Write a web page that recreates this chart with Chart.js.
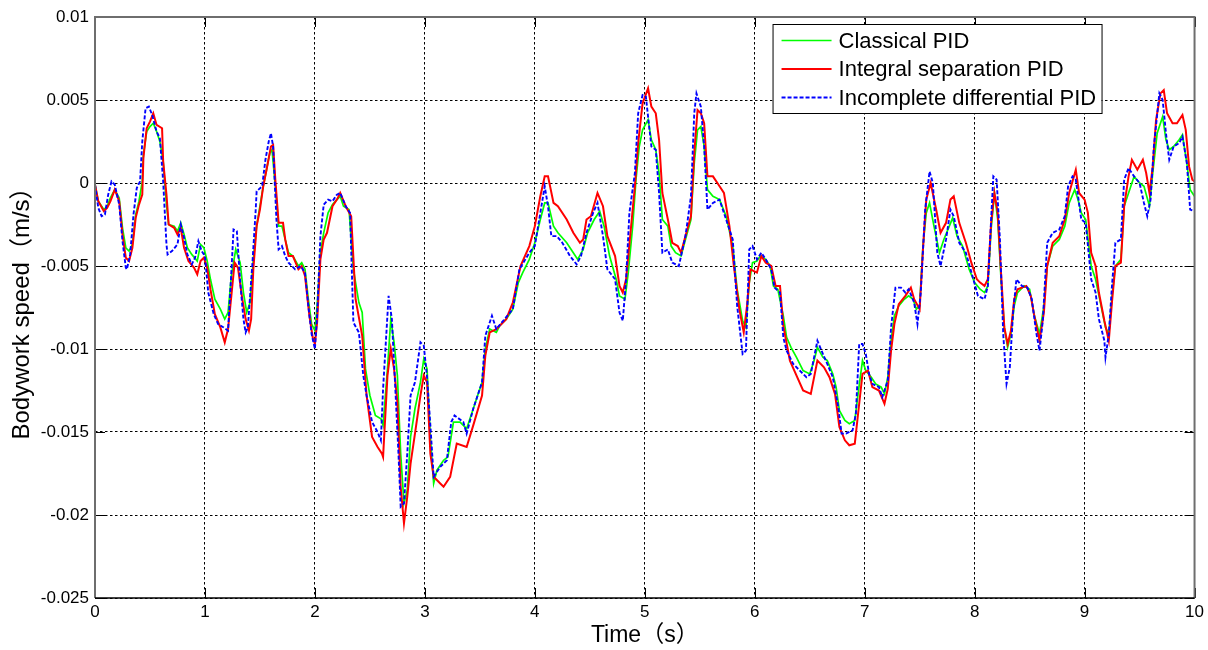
<!DOCTYPE html>
<html>
<head>
<meta charset="utf-8">
<script src="https://cdn.jsdelivr.net/npm/chart.js@4"></script>
<style>
  html, body { margin: 0; padding: 0; background: #fff; }
  #wrap { width: 1208px; height: 650px; }
</style>
</head>
<body>
<div id="wrap"><canvas id="c" width="1208" height="650"></canvas></div>
<script>
// Bodywork vertical speed (m/s) versus time (s) for three PID controllers

const seriesNames = ['Classical PID', 'Integral separation PID', 'Incomplete differential PID'];
const xTickLabels = ['0','1','2','3','4','5','6','7','8','9','10'];
const yTickLabels = ['0.01','0.005','0','-0.005','-0.01','-0.015','-0.02','-0.025'];

// Classical PID
const classicalTime = [
  0.00,0.03,0.08,0.11,0.14,0.18,0.22,0.25,0.28,0.31,0.34,0.37,0.40,0.43,0.44,0.47,0.50,0.53,0.56,0.59,
  0.62,0.65,0.67,0.72,0.75,0.78,0.81,0.84,0.88,0.93,0.96,0.99,1.02,1.05,1.09,1.14,1.18,1.21,1.24,1.28,
  1.32,1.35,1.38,1.41,1.44,1.47,1.50,1.53,1.56,1.59,1.61,1.64,1.67,1.70,1.73,1.76,1.80,1.85,1.88,1.91,
  1.94,1.97,2.00,2.02,2.05,2.08,2.12,2.16,2.20,2.23,2.26,2.31,2.35,2.40,2.43,2.46,2.50,2.55,2.60,2.62,
  2.66,2.69,2.72,2.75,2.78,2.81,2.84,2.87,2.91,2.96,2.99,3.02,3.05,3.08,3.11,3.17,3.21,3.26,3.32,3.38,
  3.44,3.52,3.55,3.59,3.65,3.68,3.74,3.80,3.85,3.89,3.95,4.00,4.05,4.09,4.12,4.17,4.21,4.29,4.35,4.39,
  4.44,4.48,4.54,4.59,4.63,4.68,4.74,4.77,4.82,4.85,4.89,4.92,4.95,4.98,5.03,5.06,5.10,5.13,5.16,5.21,
  5.24,5.28,5.33,5.37,5.42,5.45,5.48,5.51,5.54,5.57,5.62,5.68,5.74,5.80,5.84,5.89,5.92,5.95,5.98,6.02,
  6.05,6.10,6.14,6.17,6.21,6.26,6.29,6.33,6.38,6.44,6.50,6.54,6.57,6.62,6.66,6.71,6.74,6.77,6.82,6.86,
  6.91,6.94,6.98,7.01,7.06,7.10,7.15,7.18,7.21,7.24,7.27,7.31,7.36,7.40,7.44,7.47,7.50,7.53,7.56,7.59,
  7.63,7.68,7.72,7.77,7.80,7.84,7.89,7.95,8.00,8.05,8.09,8.12,8.15,8.18,8.21,8.24,8.27,8.30,8.33,8.36,
  8.39,8.45,8.50,8.54,8.59,8.63,8.66,8.71,8.77,8.82,8.86,8.91,8.94,8.97,9.01,9.06,9.10,9.15,9.19,9.22,
  9.25,9.28,9.33,9.36,9.40,9.45,9.50,9.54,9.59,9.62,9.66,9.71,9.74,9.77,9.81,9.86,9.89,9.93,9.96,10.00
];
const classicalSpeed = [
  -0.0001,-0.0011,-0.0016,-0.0014,-0.0009,-0.0004,-0.0009,-0.0027,-0.0039,-0.0041,-0.0037,-0.0019,-0.0011,0.0001,0.0017,0.0031,0.0034,0.0036,0.0031,0.0025,
  0.0013,-0.0013,-0.0025,-0.0026,-0.0029,-0.0024,-0.0031,-0.0039,-0.0043,-0.0047,-0.0037,-0.0039,-0.0047,-0.0058,-0.0070,-0.0076,-0.0082,-0.0078,-0.0056,-0.0040,
  -0.0048,-0.0066,-0.0078,-0.0072,-0.0046,-0.0026,-0.0014,-0.0002,0.0008,0.0018,0.0020,-0.0002,-0.0026,-0.0026,-0.0034,-0.0042,-0.0044,-0.0050,-0.0048,-0.0052,
  -0.0070,-0.0085,-0.0089,-0.0074,-0.0042,-0.0030,-0.0018,-0.0013,-0.0010,-0.0008,-0.0014,-0.0016,-0.0052,-0.0072,-0.0078,-0.0112,-0.0128,-0.0140,-0.0142,-0.0146,
  -0.0112,-0.0082,-0.0096,-0.0116,-0.0163,-0.0193,-0.0185,-0.0153,-0.0136,-0.0120,-0.0106,-0.0112,-0.0153,-0.0181,-0.0173,-0.0167,-0.0165,-0.0144,-0.0144,-0.0148,
  -0.0136,-0.0120,-0.0100,-0.0088,-0.0090,-0.0086,-0.0082,-0.0076,-0.0060,-0.0054,-0.0046,-0.0036,-0.0022,-0.0012,-0.0012,-0.0026,-0.0030,-0.0036,-0.0042,-0.0046,
  -0.0040,-0.0030,-0.0022,-0.0017,-0.0026,-0.0044,-0.0058,-0.0068,-0.0070,-0.0054,-0.0026,0.0002,0.0022,0.0032,0.0038,0.0026,0.0020,0.0006,-0.0022,-0.0026,
  -0.0038,-0.0042,-0.0044,-0.0034,-0.0022,0.0012,0.0032,0.0034,0.0022,-0.0004,-0.0008,-0.0010,-0.0020,-0.0038,-0.0064,-0.0083,-0.0087,-0.0060,-0.0048,-0.0047,
  -0.0044,-0.0046,-0.0050,-0.0062,-0.0064,-0.0080,-0.0093,-0.0099,-0.0105,-0.0113,-0.0115,-0.0107,-0.0099,-0.0105,-0.0107,-0.0115,-0.0123,-0.0137,-0.0143,-0.0145,
  -0.0143,-0.0127,-0.0107,-0.0113,-0.0117,-0.0121,-0.0123,-0.0127,-0.0117,-0.0095,-0.0080,-0.0074,-0.0070,-0.0068,-0.0070,-0.0076,-0.0074,-0.0038,-0.0018,-0.0012,
  -0.0026,-0.0042,-0.0034,-0.0026,-0.0021,-0.0032,-0.0038,-0.0052,-0.0060,-0.0064,-0.0066,-0.0062,-0.0028,-0.0006,-0.0022,-0.0058,-0.0087,-0.0099,-0.0091,-0.0074,
  -0.0066,-0.0062,-0.0064,-0.0079,-0.0091,-0.0074,-0.0050,-0.0038,-0.0034,-0.0026,-0.0012,-0.0004,-0.0010,-0.0018,-0.0022,-0.0050,-0.0058,-0.0074,-0.0087,-0.0091,
  -0.0068,-0.0050,-0.0046,-0.0014,-0.0006,0.0004,0.0000,-0.0002,-0.0014,0.0006,0.0030,0.0040,0.0026,0.0020,0.0022,0.0026,0.0029,0.0012,-0.0004,-0.0008
];

// Integral separation PID
const separationTime = [
  0.00,0.03,0.08,0.11,0.14,0.18,0.22,0.25,0.28,0.31,0.34,0.37,0.40,0.43,0.44,0.47,0.50,0.53,0.56,0.61,
  0.62,0.65,0.67,0.72,0.75,0.78,0.81,0.85,0.90,0.93,0.96,0.99,1.02,1.05,1.09,1.14,1.18,1.21,1.24,1.27,
  1.30,1.34,1.37,1.40,1.42,1.44,1.47,1.50,1.53,1.56,1.60,1.62,1.64,1.67,1.71,1.73,1.76,1.80,1.85,1.88,
  1.91,1.95,1.98,2.00,2.02,2.05,2.08,2.11,2.16,2.20,2.23,2.28,2.33,2.37,2.43,2.47,2.52,2.57,2.61,2.62,
  2.66,2.69,2.72,2.75,2.78,2.81,2.84,2.87,2.91,2.96,2.99,3.02,3.05,3.08,3.14,3.17,3.23,3.29,3.38,3.44,
  3.52,3.55,3.59,3.65,3.74,3.80,3.87,3.95,4.00,4.05,4.09,4.12,4.17,4.21,4.29,4.35,4.41,4.44,4.47,4.51,
  4.57,4.62,4.66,4.73,4.77,4.80,4.83,4.87,4.91,4.94,4.98,5.03,5.06,5.10,5.13,5.16,5.21,5.25,5.30,5.33,
  5.37,5.42,5.45,5.48,5.51,5.54,5.57,5.62,5.68,5.72,5.77,5.81,5.86,5.90,5.93,5.96,6.02,6.06,6.10,6.15,
  6.19,6.23,6.26,6.32,6.36,6.44,6.51,6.57,6.63,6.68,6.73,6.77,6.82,6.86,6.91,6.94,6.98,7.03,7.07,7.13,
  7.18,7.21,7.24,7.27,7.31,7.37,7.42,7.45,7.50,7.53,7.56,7.60,7.65,7.69,7.74,7.78,7.81,7.86,7.92,7.97,
  8.02,8.05,8.09,8.12,8.15,8.18,8.21,8.24,8.27,8.30,8.33,8.36,8.39,8.47,8.51,8.54,8.59,8.63,8.66,8.71,
  8.77,8.82,8.86,8.92,8.95,9.00,9.03,9.06,9.10,9.13,9.18,9.22,9.25,9.28,9.33,9.36,9.40,9.43,9.48,9.53,
  9.56,9.59,9.62,9.65,9.69,9.72,9.75,9.80,9.84,9.89,9.92,9.95,9.98,10.00
];
const separationSpeed = [
  -0.0001,-0.0011,-0.0017,-0.0015,-0.0011,-0.0004,-0.0011,-0.0031,-0.0045,-0.0047,-0.0039,-0.0021,-0.0013,-0.0007,0.0015,0.0033,0.0037,0.0042,0.0035,0.0033,
  0.0013,-0.0007,-0.0025,-0.0027,-0.0031,-0.0027,-0.0039,-0.0047,-0.0051,-0.0055,-0.0047,-0.0045,-0.0051,-0.0064,-0.0079,-0.0087,-0.0096,-0.0088,-0.0068,-0.0048,
  -0.0051,-0.0070,-0.0082,-0.0089,-0.0082,-0.0052,-0.0026,-0.0016,-0.0002,0.0008,0.0022,0.0023,0.0002,-0.0024,-0.0024,-0.0034,-0.0044,-0.0044,-0.0052,-0.0050,
  -0.0056,-0.0080,-0.0093,-0.0097,-0.0084,-0.0046,-0.0034,-0.0030,-0.0014,-0.0010,-0.0006,-0.0014,-0.0020,-0.0070,-0.0092,-0.0128,-0.0153,-0.0159,-0.0163,-0.0165,
  -0.0116,-0.0100,-0.0112,-0.0132,-0.0183,-0.0205,-0.0189,-0.0169,-0.0151,-0.0128,-0.0116,-0.0120,-0.0163,-0.0177,-0.0181,-0.0183,-0.0177,-0.0157,-0.0159,-0.0146,
  -0.0128,-0.0104,-0.0090,-0.0088,-0.0082,-0.0072,-0.0050,-0.0038,-0.0026,-0.0008,0.0004,0.0004,-0.0012,-0.0014,-0.0022,-0.0030,-0.0036,-0.0034,-0.0022,-0.0020,
  -0.0006,-0.0014,-0.0032,-0.0044,-0.0062,-0.0066,-0.0058,-0.0030,-0.0002,0.0024,0.0048,0.0057,0.0046,0.0042,0.0026,-0.0006,-0.0022,-0.0036,-0.0038,-0.0042,
  -0.0032,-0.0020,0.0018,0.0044,0.0042,0.0036,0.0004,0.0004,-0.0002,-0.0006,-0.0026,-0.0050,-0.0076,-0.0090,-0.0074,-0.0052,-0.0054,-0.0044,-0.0048,-0.0050,
  -0.0062,-0.0062,-0.0086,-0.0107,-0.0113,-0.0125,-0.0127,-0.0107,-0.0111,-0.0117,-0.0127,-0.0147,-0.0155,-0.0158,-0.0157,-0.0139,-0.0115,-0.0113,-0.0123,-0.0125,
  -0.0133,-0.0124,-0.0101,-0.0085,-0.0073,-0.0068,-0.0063,-0.0070,-0.0076,-0.0040,-0.0010,0.0000,-0.0016,-0.0030,-0.0024,-0.0010,-0.0008,-0.0024,-0.0036,-0.0048,
  -0.0058,-0.0060,-0.0062,-0.0058,-0.0024,-0.0006,-0.0018,-0.0054,-0.0087,-0.0097,-0.0089,-0.0070,-0.0064,-0.0062,-0.0068,-0.0079,-0.0095,-0.0078,-0.0050,-0.0036,
  -0.0032,-0.0022,-0.0006,0.0008,-0.0006,-0.0010,-0.0018,-0.0042,-0.0050,-0.0066,-0.0083,-0.0095,-0.0071,-0.0050,-0.0048,-0.0014,0.0004,0.0014,0.0008,0.0014,
  0.0006,-0.0006,0.0010,0.0038,0.0054,0.0056,0.0042,0.0036,0.0036,0.0041,0.0032,0.0010,0.0002,0.0001
];

// Incomplete differential PID
const incompleteTime = [
  0.00,0.03,0.06,0.09,0.12,0.15,0.18,0.22,0.25,0.28,0.29,0.32,0.35,0.38,0.41,0.43,0.46,0.49,0.52,0.56,
  0.59,0.62,0.65,0.66,0.70,0.75,0.78,0.81,0.84,0.88,0.91,0.94,0.97,1.00,1.03,1.08,1.12,1.17,1.21,1.24,
  1.26,1.29,1.32,1.35,1.37,1.39,1.43,1.46,1.47,1.52,1.55,1.58,1.60,1.62,1.65,1.67,1.70,1.73,1.76,1.82,
  1.87,1.91,1.94,1.97,2.00,2.02,2.05,2.08,2.12,2.16,2.20,2.23,2.28,2.32,2.35,2.40,2.44,2.47,2.52,2.57,
  2.60,2.62,2.67,2.70,2.73,2.76,2.78,2.81,2.84,2.87,2.91,2.96,2.99,3.02,3.05,3.08,3.14,3.20,3.24,3.27,
  3.35,3.38,3.44,3.52,3.55,3.61,3.65,3.70,3.80,3.86,3.95,4.00,4.05,4.09,4.12,4.15,4.20,4.25,4.32,4.38,
  4.42,4.47,4.53,4.57,4.62,4.66,4.73,4.77,4.80,4.83,4.86,4.91,4.94,4.98,5.01,5.06,5.10,5.13,5.16,5.21,
  5.25,5.31,5.37,5.42,5.45,5.47,5.51,5.54,5.57,5.62,5.68,5.74,5.80,5.84,5.89,5.92,5.95,5.98,6.02,6.06,
  6.10,6.15,6.18,6.23,6.26,6.29,6.35,6.41,6.47,6.51,6.57,6.62,6.66,6.71,6.76,6.79,6.83,6.89,6.92,6.95,
  6.98,7.01,7.04,7.07,7.13,7.16,7.21,7.24,7.28,7.33,7.37,7.40,7.45,7.48,7.51,7.55,7.59,7.62,7.66,7.69,
  7.74,7.78,7.81,7.86,7.92,7.98,8.03,8.09,8.12,8.15,8.17,8.20,8.23,8.26,8.29,8.32,8.35,8.38,8.43,8.48,
  8.52,8.56,8.59,8.62,8.66,8.71,8.77,8.82,8.85,8.89,8.92,8.97,9.01,9.06,9.10,9.13,9.18,9.19,9.22,9.25,
  9.28,9.33,9.36,9.40,9.45,9.50,9.54,9.57,9.60,9.63,9.68,9.71,9.74,9.77,9.81,9.86,9.89,9.93,9.96,10.00
];
const incompleteSpeed = [
  -0.0001,-0.0015,-0.0020,-0.0019,-0.0007,0.0001,-0.0001,-0.0013,-0.0035,-0.0051,-0.0052,-0.0043,-0.0019,-0.0003,0.0001,0.0025,0.0045,0.0046,0.0041,0.0031,
  0.0027,0.0001,-0.0037,-0.0043,-0.0041,-0.0037,-0.0025,-0.0033,-0.0043,-0.0049,-0.0045,-0.0035,-0.0041,-0.0044,-0.0066,-0.0079,-0.0085,-0.0087,-0.0089,-0.0054,
  -0.0028,-0.0029,-0.0059,-0.0082,-0.0090,-0.0087,-0.0050,-0.0018,-0.0005,-0.0002,0.0014,0.0025,0.0030,0.0022,-0.0022,-0.0040,-0.0038,-0.0044,-0.0048,-0.0052,
  -0.0050,-0.0054,-0.0074,-0.0091,-0.0100,-0.0080,-0.0032,-0.0013,-0.0010,-0.0011,-0.0007,-0.0006,-0.0014,-0.0018,-0.0084,-0.0090,-0.0116,-0.0128,-0.0144,-0.0150,
  -0.0155,-0.0124,-0.0068,-0.0082,-0.0122,-0.0163,-0.0195,-0.0193,-0.0163,-0.0128,-0.0120,-0.0096,-0.0098,-0.0117,-0.0146,-0.0177,-0.0171,-0.0167,-0.0144,-0.0140,
  -0.0144,-0.0151,-0.0136,-0.0120,-0.0092,-0.0080,-0.0088,-0.0084,-0.0076,-0.0052,-0.0042,-0.0038,-0.0018,-0.0002,-0.0014,-0.0032,-0.0032,-0.0036,-0.0044,-0.0049,
  -0.0044,-0.0030,-0.0018,-0.0012,-0.0032,-0.0052,-0.0058,-0.0078,-0.0083,-0.0058,-0.0018,0.0006,0.0042,0.0053,0.0052,0.0022,0.0020,-0.0006,-0.0042,-0.0040,
  -0.0048,-0.0050,-0.0032,-0.0008,0.0042,0.0054,0.0046,0.0022,-0.0016,-0.0012,-0.0010,-0.0022,-0.0034,-0.0074,-0.0103,-0.0101,-0.0040,-0.0038,-0.0046,-0.0042,
  -0.0046,-0.0052,-0.0063,-0.0066,-0.0093,-0.0101,-0.0109,-0.0113,-0.0117,-0.0115,-0.0095,-0.0103,-0.0109,-0.0117,-0.0135,-0.0151,-0.0151,-0.0149,-0.0139,-0.0097,
  -0.0097,-0.0103,-0.0115,-0.0121,-0.0123,-0.0129,-0.0119,-0.0087,-0.0063,-0.0063,-0.0066,-0.0064,-0.0072,-0.0085,-0.0066,-0.0016,0.0007,0.0000,-0.0042,-0.0050,
  -0.0034,-0.0016,-0.0020,-0.0036,-0.0042,-0.0056,-0.0068,-0.0070,-0.0062,-0.0022,0.0004,0.0002,-0.0034,-0.0091,-0.0121,-0.0111,-0.0078,-0.0058,-0.0062,-0.0063,
  -0.0070,-0.0090,-0.0101,-0.0083,-0.0036,-0.0030,-0.0028,-0.0020,-0.0002,0.0004,0.0002,-0.0022,-0.0024,-0.0058,-0.0066,-0.0082,-0.0095,-0.0105,-0.0091,-0.0061,
  -0.0036,-0.0034,0.0002,0.0009,0.0004,0.0000,-0.0012,-0.0020,-0.0010,0.0022,0.0054,0.0050,0.0030,0.0014,0.0022,0.0024,0.0028,0.0012,-0.0016,-0.0017
];

const FONT = '"Liberation Sans", Arial, "Noto Sans CJK SC", sans-serif';

function toPoints(times, values) {
  return times.map((t, i) => ({ x: t, y: values[i] }));
}

// Inward tick marks and the axes box, drawn over the curves
const axesBox = {
  id: 'axesBox',
  afterDatasetsDraw(chart) {
    const { ctx, chartArea: a, scales: { x, y } } = chart;
    ctx.save();
    ctx.strokeStyle = '#000';
    ctx.lineWidth = 1;
    ctx.beginPath();
    x.ticks.forEach(t => {
      const px = Math.round(x.getPixelForValue(t.value)) + 0.5;
      ctx.moveTo(px, a.bottom); ctx.lineTo(px, a.bottom - 10);
      ctx.moveTo(px, a.top); ctx.lineTo(px, a.top + 10);
    });
    y.ticks.forEach(t => {
      const py = Math.round(y.getPixelForValue(t.value)) + 0.5;
      ctx.moveTo(a.left, py); ctx.lineTo(a.left + 10, py);
      ctx.moveTo(a.right, py); ctx.lineTo(a.right - 10, py);
    });
    ctx.stroke();
    ctx.strokeStyle = '#6e6e6e';
    ctx.lineWidth = 2;
    ctx.beginPath();
    ctx.moveTo(a.left, a.bottom); ctx.lineTo(a.left, a.top);
    ctx.lineTo(a.right, a.top); ctx.lineTo(a.right, a.bottom);
    ctx.stroke();
    ctx.strokeStyle = '#000';
    ctx.lineWidth = 1.5;
    ctx.beginPath();
    ctx.moveTo(a.left, a.bottom); ctx.lineTo(a.right, a.bottom);
    ctx.stroke();
    ctx.restore();
  }
};

// Boxed legend in the upper right corner of the plot
const boxedLegend = {
  id: 'boxedLegend',
  afterDraw(chart) {
    const { ctx, chartArea: a } = chart;
    const bx = a.right - 422, by = a.top + 7, bw = 329, bh = 89;
    ctx.save();
    ctx.fillStyle = '#fff';
    ctx.fillRect(bx, by, bw, bh);
    ctx.strokeStyle = '#000';
    ctx.lineWidth = 1;
    ctx.strokeRect(bx + 0.5, by + 0.5, bw, bh);
    ctx.font = '22px ' + FONT;
    ctx.textBaseline = 'middle';
    ctx.fillStyle = '#000';
    chart.data.datasets.forEach((ds, i) => {
      const ry = by + 16.5 + i * 28.5;
      ctx.strokeStyle = ds.borderColor;
      ctx.lineWidth = ds.borderWidth;
      ctx.setLineDash(ds.borderDash || []);
      ctx.beginPath();
      ctx.moveTo(bx + 9, ry); ctx.lineTo(bx + 59, ry);
      ctx.stroke();
      ctx.setLineDash([]);
      ctx.fillText(ds.label, bx + 66, ry + 1);
    });
    ctx.restore();
  }
};

new Chart(document.getElementById('c'), {
  type: 'line',
  data: {
    datasets: [
      { label: seriesNames[0], data: toPoints(classicalTime, classicalSpeed),
        borderColor: '#00ff00', borderWidth: 1.7, order: 3 },
      { label: seriesNames[1], data: toPoints(separationTime, separationSpeed),
        borderColor: '#ff0000', borderWidth: 2, order: 2 },
      { label: seriesNames[2], data: toPoints(incompleteTime, incompleteSpeed),
        borderColor: '#0000ff', borderWidth: 1.9, borderDash: [4, 2], order: 1 }
    ]
  },
  options: {
    responsive: false,
    animation: false,
    devicePixelRatio: 1,
    layout: { padding: { left: 0, top: 17, right: 12, bottom: 0 } },
    elements: {
      point: { radius: 0, hoverRadius: 0 },
      line: { tension: 0, fill: false }
    },
    plugins: { legend: { display: false }, tooltip: { enabled: false } },
    scales: {
      x: {
        type: 'linear', min: 0, max: 10,
        afterBuildTicks: s => { s.ticks = xTickLabels.map(l => ({ value: Number(l) })); },
        afterFit: s => { s.height = 52; },
        ticks: {
          callback: v => xTickLabels.find(l => Math.abs(Number(l) - v) < 1e-9) ?? '',
          color: '#000', font: { family: FONT, size: 17 }, padding: 4, maxRotation: 0
        },
        grid: { color: '#000', lineWidth: 1, drawTicks: false },
        border: { display: false, dash: [2.5, 2.5] },
        title: { display: true, text: 'Time（s）', color: '#000',
                 font: { family: FONT, size: 23 }, padding: { top: 0, bottom: 1 } }
      },
      y: {
        type: 'linear', min: -0.025, max: 0.01,
        afterBuildTicks: s => { s.ticks = yTickLabels.map(l => ({ value: Number(l) })); },
        afterFit: s => { s.width = 95; },
        ticks: {
          callback: v => yTickLabels.find(l => Math.abs(Number(l) - v) < 1e-9) ?? '',
          color: '#000', font: { family: FONT, size: 17 }, padding: 6
        },
        grid: { color: '#000', lineWidth: 1, drawTicks: false },
        border: { display: false, dash: [2.5, 2.5] },
        title: { display: true, text: 'Bodywork speed（m/s）', color: '#000',
                 font: { family: FONT, size: 24 }, padding: { top: 8, bottom: 0 } }
      }
    }
  },
  plugins: [axesBox, boxedLegend]
});
</script>
</body>
</html>
